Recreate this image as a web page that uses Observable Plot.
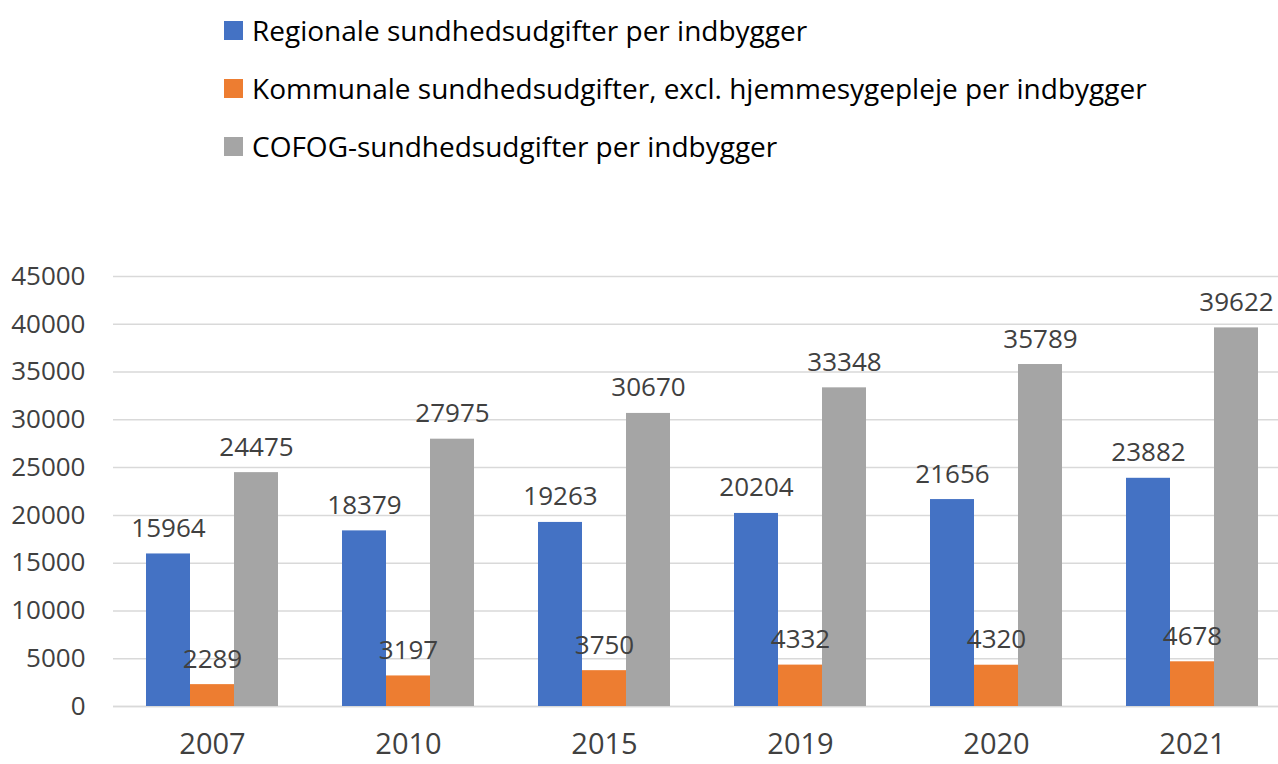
<!DOCTYPE html>
<html>
<head>
<meta charset="utf-8">
<script src="https://cdn.jsdelivr.net/npm/d3@7"></script>
<script src="https://cdn.jsdelivr.net/npm/@observablehq/plot@0.6"></script>
<style>
  html, body { margin: 0; padding: 0; background: #fff; }
  body { width: 1278px; height: 764px; position: relative; overflow: hidden; font-family: "Open Sans", sans-serif; }
  #legend { position: absolute; left: 224px; top: 1px; }
  .item { display: flex; align-items: center; height: 58px; font-size: 28px; color: #000; }
  .sw { width: 19px; height: 19px; margin-right: 9px; flex: none; }
  #chart { position: absolute; left: 0; top: 240px; }
</style>
</head>
<body>
<div id="legend"></div>
<div id="chart"></div>
<script>
const years = ["2007", "2010", "2015", "2019", "2020", "2021"];
const seriesNames = [
  "Regionale sundhedsudgifter per indbygger",
  "Kommunale sundhedsudgifter, excl. hjemmesygepleje per indbygger",
  "COFOG-sundhedsudgifter per indbygger"
];
const regionale = [15964, 18379, 19263, 20204, 21656, 23882];
const kommunale = [2289, 3197, 3750, 4332, 4320, 4678];
const cofog = [24475, 27975, 30670, 33348, 35789, 39622];
const colors = ["#4472C4", "#ED7D31", "#A5A5A5"];
const yTicks = [0, 5000, 10000, 15000, 20000, 25000, 30000, 35000, 40000, 45000];

const seriesValues = [regionale, kommunale, cofog];
const offsets = [-44, 0, 44];

const legend = document.getElementById("legend");
seriesNames.forEach((name, i) => {
  const row = document.createElement("div");
  row.className = "item";
  row.innerHTML = `<span class="sw" style="background:${colors[i]}"></span><span>${name}</span>`;
  legend.appendChild(row);
});

const barMarks = [];
const textMarks = [];
seriesValues.forEach((vals, i) => {
  const data = years.map((yr, j) => ({year: yr, value: vals[j]}));
  barMarks.push(Plot.barY(data, {x: "year", y: "value", fill: colors[i], dx: offsets[i]}));
  textMarks.push(Plot.text(data, {
    x: "year", y: "value", text: d => String(d.value), dx: offsets[i], dy: -17,
    lineAnchor: "bottom", fontSize: 26, fill: "#404040"
  }));
});

const chart = Plot.plot({
  width: 1278,
  height: 524,
  marginLeft: 113,
  marginRight: 0,
  marginTop: 36,
  marginBottom: 58,
  style: {fontFamily: "Open Sans, sans-serif", background: "#fff", overflow: "visible"},
  x: {domain: years, range: [113, 1290], paddingInner: 0.776, paddingOuter: 0.388, label: null},
  y: {domain: [0, 45000], label: null},
  marks: [
    Plot.gridY(yTicks, {stroke: "#D9D9D9", strokeOpacity: 1, strokeWidth: 1.5}),
    Plot.ruleY([0], {stroke: "#D9D9D9", strokeWidth: 1.5}),
    ...barMarks,
    ...textMarks,
    Plot.axisY(yTicks, {tickSize: 0, tickPadding: 28, fontSize: 26, fill: "#404040", tickFormat: d => String(d), label: null}),
    Plot.axisX({tickSize: 0, tickPadding: 27, fontSize: 29, fill: "#404040", label: null})
  ]
});
document.getElementById("chart").appendChild(chart);
</script>
</body>
</html>
